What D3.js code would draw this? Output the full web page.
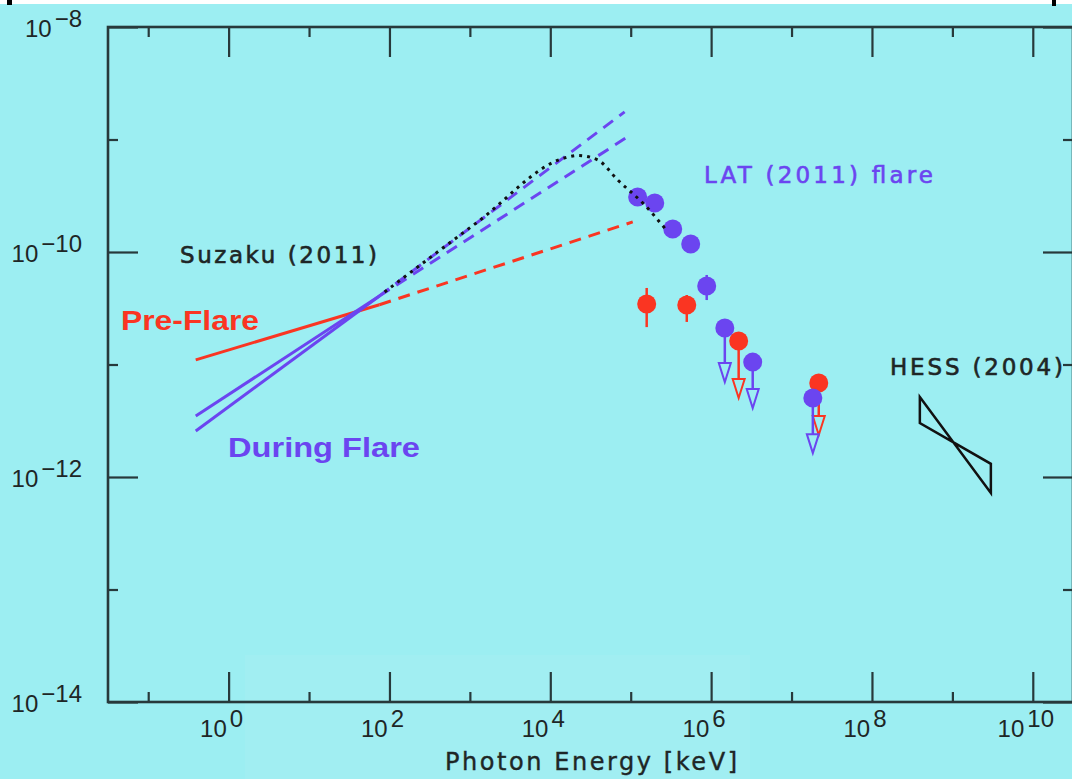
<!DOCTYPE html>
<html>
<head>
<meta charset="utf-8">
<script src="https://cdn.jsdelivr.net/npm/d3@7"></script>
<style>
  html, body { margin: 0; padding: 0; background: #9ceef2; overflow: hidden; }
  svg { display: block; }
</style>
</head>
<body>
<svg id="chart" width="1072" height="779"></svg>
<script>
// ---- axis decades (exponents of ten) ----
const xMajorExp = [0, 2, 4, 6, 8, 10];
const xMinorExp = [-1, 1, 3, 5, 7, 9];
const yMajorExp = [-8, -10, -12, -14];
const yMinorExp = [-9, -11, -13];

// ---- Suzaku (2011) power laws: [energy keV, flux] ----
const preFlareSolid    = [[0.39, 1.10e-11], [75, 3.40e-11]];
const preFlareDashed   = [[75, 3.40e-11], [1.06e5, 1.85e-10]];
const flareSteepSolid  = [[0.39, 2.56e-12], [75, 4.07e-11]];
const flareSteepDashed = [[75, 4.07e-11], [8.4e4, 1.76e-9]];
const flareFlatSolid   = [[0.39, 3.48e-12], [75, 4.07e-11]];
const flareFlatDashed  = [[75, 4.07e-11], [1.0e5, 1.10e-9]];

// model curve joining the X-ray and GeV data
const modelCurve = [[87, 4.41e-11], [1.25e3, 1.85e-10], [1.51e4, 6.86e-10], [2.19e4, 7.21e-10],
                    [3.89e4, 6.58e-10], [6.89e4, 4.37e-10], [1.49e5, 2.62e-10], [2.65e5, 1.63e-10]];

// ---- LAT (2011) flare points ----
const flareDetE  = [1.22e5, 1.99e5, 3.33e5, 5.57e5, 8.81e5];
const flareDetF  = [3.08e-10, 2.73e-10, 1.60e-10, 1.18e-10, 4.99e-11];
const flareDetLo = [3.08e-10, 2.73e-10, 1.60e-10, 1.18e-10, 3.74e-11];
const flareDetHi = [3.08e-10, 2.73e-10, 1.60e-10, 1.18e-10, 6.25e-11];
const flareUlE   = [1.48e6, 3.29e6, 1.84e7];
const flareUlF   = [2.11e-11, 1.05e-11, 5.04e-12];
const flareUlTo  = [6.98e-12, 4.10e-12, 1.63e-12];

// ---- LAT pre-flare points ----
const preDetE  = [1.58e5, 4.98e5];
const preDetF  = [3.45e-11, 3.38e-11];
const preDetLo = [2.15e-11, 2.39e-11];
const preDetHi = [4.79e-11, 4.15e-11];
const preUlE   = [2.20e6, 2.18e7];
const preUlF   = [1.62e-11, 6.86e-12];
const preUlTo  = [5.04e-12, 2.36e-12];

// ---- HESS (2004) butterfly ----
const hessE     = [3.94e8, 3.01e9];
const hessUpper = [5.14e-12, 1.31e-12];
const hessLower = [3.02e-12, 7.21e-13];

// ---- styling ----
const BG = "#9ceef2";
const INK = "#27393b";
const TXT = "#1e2626";
const RED = "#fa3522";
const BLUE = "#6b45f0";

const svg = d3.select("#chart");
const frame = { left: 108, top: 27, right: 1073, bottom: 702 };

const x = d3.scaleLog().domain([Math.pow(10, -1.5), Math.pow(10, 10.5)]).range([frame.left, frame.right]);
const y = d3.scaleLog().domain([1e-14, 1e-8]).range([frame.bottom, frame.top]);

svg.append("rect").attr("width", 1072).attr("height", 779).attr("fill", BG);
// faint lighter patch near the bottom
svg.append("rect").attr("x", 245).attr("y", 655).attr("width", 505).attr("height", 124)
  .attr("fill", "#ffffff").attr("opacity", 0.05);
// white strip along the top edge
svg.append("rect").attr("width", 1072).attr("height", 4).attr("fill", "#ffffff");
svg.append("rect").attr("x", 7).attr("y", 0).attr("width", 5).attr("height", 5).attr("fill", "#000");
svg.append("rect").attr("x", 1052).attr("y", 0).attr("width", 4).attr("height", 6).attr("fill", "#000");

// ---- axes (ticks point inwards on all four sides) ----
const p10 = e => Math.pow(10, e);
function styleAxis(g) {
  g.select(".domain").remove();
  g.selectAll(".tick line").attr("stroke", INK).attr("stroke-width", 2.2);
  g.selectAll(".tick text").remove();
}
const sides = [
  { gen: d3.axisBottom, scale: x, tf: `translate(0,${frame.bottom})`, maj: xMajorExp, min: xMinorExp },
  { gen: d3.axisTop,    scale: x, tf: `translate(0,${frame.top})`,    maj: xMajorExp, min: xMinorExp },
  { gen: d3.axisLeft,   scale: y, tf: `translate(${frame.left},0)`,   maj: yMajorExp, min: yMinorExp },
  { gen: d3.axisRight,  scale: y, tf: `translate(${frame.right},0)`,  maj: yMajorExp, min: yMinorExp }
];
sides.forEach(s => {
  svg.append("g").attr("transform", s.tf)
    .call(s.gen(s.scale).tickValues(s.maj.map(p10)).tickSize(-30).tickSizeOuter(0).tickFormat(""))
    .call(styleAxis);
  svg.append("g").attr("transform", s.tf)
    .call(s.gen(s.scale).tickValues(s.min.map(p10)).tickSize(-10).tickSizeOuter(0).tickFormat(""))
    .call(styleAxis);
});
svg.append("rect")
  .attr("x", frame.left).attr("y", frame.top)
  .attr("width", frame.right - frame.left).attr("height", frame.bottom - frame.top)
  .attr("fill", "none").attr("stroke", INK).attr("stroke-width", 2.6);

// tick labels: 10 with a raised exponent of about the same size
const tickFont = "'Liberation Sans', Arial, sans-serif";
function powerLabel(sel, exp) {
  sel.append("tspan").text("10");
  sel.append("tspan").attr("dx", 3).attr("dy", -10).attr("font-size", 24)
    .text(exp < 0 ? "\u2212" + Math.abs(exp) : String(exp));
}
xMajorExp.forEach(e => {
  svg.append("text")
    .attr("x", x(p10(e)) - 7).attr("y", frame.bottom + 35)
    .attr("text-anchor", "middle").attr("font-family", tickFont).attr("font-size", 24)
    .attr("fill", TXT)
    .call(powerLabel, e);
});
yMajorExp.forEach(e => {
  svg.append("text")
    .attr("x", frame.left - 26).attr("y", y(p10(e)) + 10)
    .attr("text-anchor", "end").attr("font-family", tickFont).attr("font-size", 24)
    .attr("fill", TXT)
    .call(powerLabel, e);
});

const plotFont = "'DejaVu Sans', Verdana, sans-serif";
svg.append("text")
  .attr("x", 445).attr("y", 770)
  .attr("font-family", plotFont).attr("font-size", 24).attr("fill", TXT)
  .attr("stroke", TXT).attr("stroke-width", 0.4)
  .attr("textLength", 292).attr("lengthAdjust", "spacing")
  .text("Photon Energy [keV]");

// ---- spectra ----
const line = d3.line().x(d => x(d[0])).y(d => y(d[1]));
function drawLine(data, color, dash, width) {
  svg.append("path").attr("d", line(data))
    .attr("fill", "none").attr("stroke", color).attr("stroke-width", width)
    .attr("stroke-dasharray", dash || null);
}
drawLine(preFlareSolid, RED, null, 3);
drawLine(preFlareDashed, RED, "12,8", 3);
drawLine(flareSteepSolid, BLUE, null, 3);
drawLine(flareFlatSolid, BLUE, null, 3);
drawLine(flareSteepDashed, BLUE, "12,8", 3);
drawLine(flareFlatDashed, BLUE, "12,8", 3);

// HESS butterfly
const bowtie = [[hessE[0], hessUpper[0]], [hessE[1], hessLower[1]], [hessE[1], hessUpper[1]], [hessE[0], hessLower[0]]];
svg.append("path").attr("d", line(bowtie) + "Z")
  .attr("fill", "none").attr("stroke", "#111").attr("stroke-width", 2.5).attr("stroke-linejoin", "miter");

// LAT points
function drawPoints(E, F, lo, hi, color) {
  E.forEach((e, i) => {
    svg.append("line").attr("x1", x(e)).attr("x2", x(e))
      .attr("y1", y(lo[i])).attr("y2", y(hi[i]))
      .attr("stroke", color).attr("stroke-width", 2.5);
    svg.append("circle").attr("cx", x(e)).attr("cy", y(F[i])).attr("r", 9.5).attr("fill", color);
  });
}
function drawLimits(E, F, to, color) {
  E.forEach((e, i) => {
    const cx = x(e), cy = y(F[i]), ty = y(to[i]);
    svg.append("line").attr("x1", cx).attr("x2", cx).attr("y1", cy).attr("y2", ty - 19)
      .attr("stroke", color).attr("stroke-width", 2.5);
    svg.append("path")
      .attr("d", `M${cx - 6},${ty - 19}L${cx + 6},${ty - 19}L${cx},${ty}Z`)
      .attr("fill", BG).attr("stroke", color).attr("stroke-width", 2).attr("stroke-linejoin", "miter");
    svg.append("circle").attr("cx", cx).attr("cy", cy).attr("r", 9.5).attr("fill", color);
  });
}
drawLimits(preUlE, preUlF, preUlTo, RED);
drawPoints(preDetE, preDetF, preDetLo, preDetHi, RED);
drawLimits(flareUlE, flareUlF, flareUlTo, BLUE);
drawPoints(flareDetE, flareDetF, flareDetLo, flareDetHi, BLUE);

// dotted model curve on top
svg.append("path")
  .attr("d", d3.line().x(d => x(d[0])).y(d => y(d[1])).curve(d3.curveMonotoneX)(modelCurve))
  .attr("fill", "none").attr("stroke", "#111").attr("stroke-width", 3)
  .attr("stroke-dasharray", "3,5");

// ---- annotations ----
function label(txt, px, py, len, color, opts) {
  const t = svg.append("text").attr("x", px).attr("y", py)
    .attr("fill", color).attr("textLength", len)
    .attr("font-family", opts.family).attr("font-size", opts.size)
    .attr("font-weight", opts.weight || "normal")
    .attr("lengthAdjust", opts.adjust || "spacing")
    .text(txt);
  if (opts.stroke) t.attr("stroke", color).attr("stroke-width", opts.stroke);
}
const hershey = { family: plotFont, size: 23, stroke: 0.6 };
const bold = { family: "'Liberation Sans', Arial, sans-serif", size: 28, weight: "bold", adjust: "spacingAndGlyphs" };
label("Suzaku (2011)", 180, 263, 197, TXT, hershey);
label("LAT (2011) flare", 704, 183, 229, BLUE, hershey);
label("HESS (2004)", 890, 375, 173, TXT, hershey);
label("Pre-Flare", 121, 330, 138, RED, bold);
label("During Flare", 228, 457, 192, BLUE, bold);
</script>
</body>
</html>
